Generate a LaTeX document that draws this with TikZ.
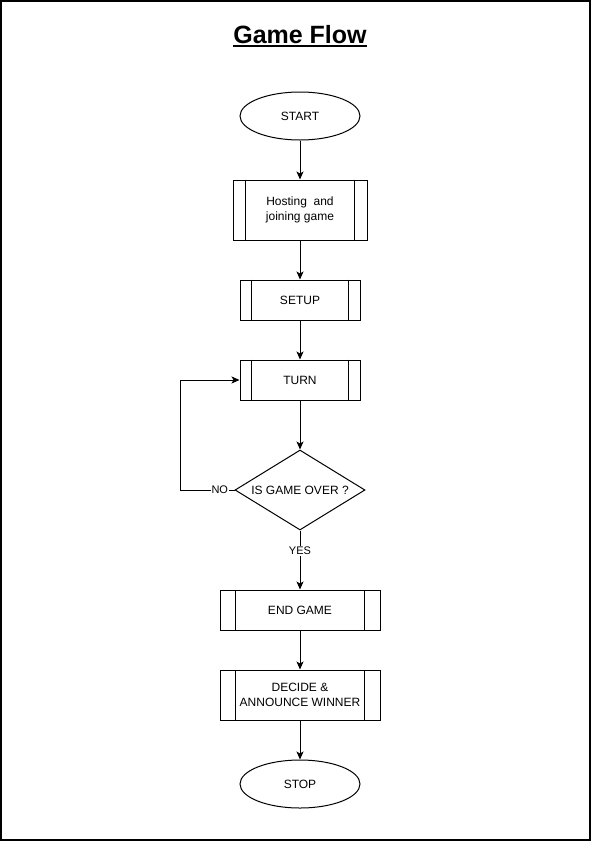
\documentclass[tikz,border=0pt]{standalone}
\usepackage{fontspec}
\setmainfont{Liberation Sans}
\usetikzlibrary{arrows.meta,shapes.geometric}

\begin{document}
\begin{tikzpicture}[x=1pt,y=-1pt,line width=1pt,
    every node/.style={font=\fontsize{12}{15}\selectfont},
    terminal/.style={draw,ellipse,minimum width=120pt,minimum height=48pt,inner sep=0pt},
    procbox/.style={draw,rectangle,inner sep=0pt,align=center},
    decision/.style={draw,diamond,aspect=1.625,minimum width=130pt,minimum height=80pt,inner sep=0pt},
    lbl/.style={fill=white,inner sep=1pt,font=\fontsize{11}{13}\selectfont},
    arr/.style={-{Stealth[length=8pt,width=7pt,inset=2pt]}}]
    \useasboundingbox (0,0) rectangle (591,841);

    % Frame and title
    \draw[line width=1.5pt] (1,1) rectangle (590,840);
    \node[anchor=base,inner sep=0pt,font=\bfseries\fontsize{25}{30}\selectfont] (title) at (300,43) {Game Flow};
    \draw[line width=2pt] ([yshift=-3pt]title.base west) -- ([yshift=-3pt]title.base east);

    % Steps
    \node[terminal] (start) at (300,116) {START};
    \node[procbox,minimum width=134pt,minimum height=60pt] (host) at (300,210) {Hosting\ \ and\\joining game};
    \node[procbox,minimum width=120pt,minimum height=40pt] (setup) at (300,300) {SETUP};
    \node[procbox,minimum width=120pt,minimum height=40pt] (turn) at (300,380) {TURN};
    \node[decision] (over) at (300,490) {IS GAME OVER ?};
    \node[procbox,minimum width=160pt,minimum height=40pt] (endg) at (300,610) {END GAME};
    \node[procbox,minimum width=160pt,minimum height=50pt] (decide) at (300,695) {DECIDE \&\\ANNOUNCE WINNER};
    \node[terminal] (stop) at (300,784) {STOP};
    \coordinate (loop) at (180,490);

    % Side bars of the process boxes
    \foreach \n/\d in {host/13,setup/12,turn/12,endg/16,decide/16} {
        \draw ([xshift=\d pt]\n.north west) -- ([xshift=\d pt]\n.south west);
        \draw ([xshift=-\d pt]\n.north east) -- ([xshift=-\d pt]\n.south east);
    }

    % Arrows
    \draw[arr] (start) -- (host);
    \draw[arr] (host) -- (setup);
    \draw[arr] (setup) -- (turn);
    \draw[arr] (turn) -- (over);
    \draw[arr] (over.west) -- node[lbl,pos=0.27] {NO} (loop) |- (turn.west);
    \draw[arr] (over) -- node[lbl,pos=0.35] {YES} (endg);
    \draw[arr] (endg) -- (decide);
    \draw[arr] (decide) -- (stop);
\end{tikzpicture}
\end{document}
